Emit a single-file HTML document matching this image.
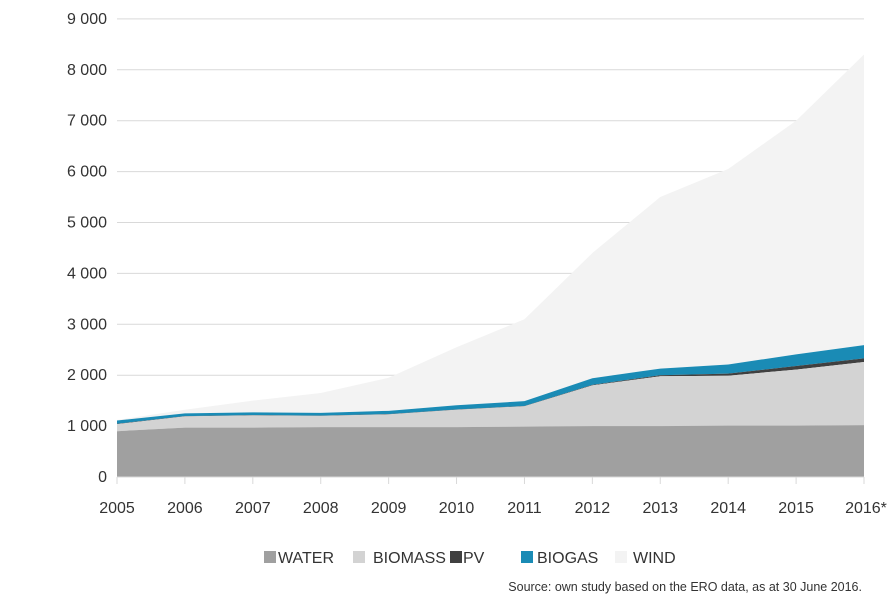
<!DOCTYPE html>
<html><head><meta charset="utf-8"><style>
body{margin:0;background:#fff;}
svg text{font-family:"Liberation Sans",sans-serif;fill:#333;}
</style></head><body>
<svg id="s" width="888" height="602" xmlns="http://www.w3.org/2000/svg"></svg>
<script>
const s=document.getElementById('s');
const X0=117,DX=(864-117)/11,Y0=477,K=0.0509;
const x=i=>X0+i*DX, y=v=>Y0-v*K;
let h='';
for(let k=1;k<=9;k++){const yy=y(k*1000);h+=`<line x1="117" x2="864" y1="${yy}" y2="${yy}" stroke="#d9d9d9" stroke-width="1"/>`;}
const water=[900,970,970,980,980,980,990,1000,1000,1010,1010,1020];
const biomass=[1040,1190,1210,1200,1230,1320,1390,1800,1980,1990,2110,2260];
const pv=[1045,1195,1215,1205,1235,1325,1395,1810,2000,2030,2180,2330];
const biogas=[1110,1250,1270,1260,1300,1410,1490,1940,2130,2210,2410,2590];
const wind=[1120,1320,1500,1650,1950,2550,3100,4400,5500,6050,7000,8300];
function area(top,bot,c){let d='M'+top.map((v,i)=>x(i)+','+y(v)).join(' L');for(let i=11;i>=0;i--)d+=' L'+x(i)+','+(bot?y(bot[i]):Y0);return `<path d="${d} Z" fill="${c}"/>`;}
h+=area(wind,biogas,'#f3f3f3');
h+=area(biogas,pv,'#1a8bb5');
h+=area(pv,biomass,'#404040');
h+=area(biomass,water,'#d3d3d3');
h+=area(water,null,'#a0a0a0');
h+=`<line x1="117" x2="864" y1="${Y0}" y2="${Y0}" stroke="#d9d9d9"/>`;
for(let i=0;i<12;i++)h+=`<line x1="${x(i)}" x2="${x(i)}" y1="${Y0}" y2="${Y0+7}" stroke="#d9d9d9"/>`;
const labs=['0','1 000','2 000','3 000','4 000','5 000','6 000','7 000','8 000','9 000'];
labs.forEach((l,k)=>{h+=`<text x="107" y="${y(k*1000)+5}" text-anchor="end" font-size="16">${l}</text>`;});
for(let i=0;i<12;i++){h+=`<text x="${x(i)+(i==11?2:0)}" y="513" text-anchor="middle" font-size="16">${2005+i}${i==11?'*':''}</text>`;}
const leg=[[264,278,'#a0a0a0','WATER'],[353,373,'#d3d3d3','BIOMASS'],[450,463,'#404040','PV'],[521,537,'#1a8bb5','BIOGAS'],[615,633,'#f3f3f3','WIND']];
leg.forEach(l=>{h+=`<rect x="${l[0]}" y="551" width="12" height="12" fill="${l[2]}"/><text x="${l[1]}" y="563" font-size="16">${l[3]}</text>`;});
h+=`<text x="862" y="591" text-anchor="end" font-size="12.5" fill="#222">Source: own study based on the ERO data, as at 30 June 2016.</text>`;
s.innerHTML=h;
</script>
</body></html>
